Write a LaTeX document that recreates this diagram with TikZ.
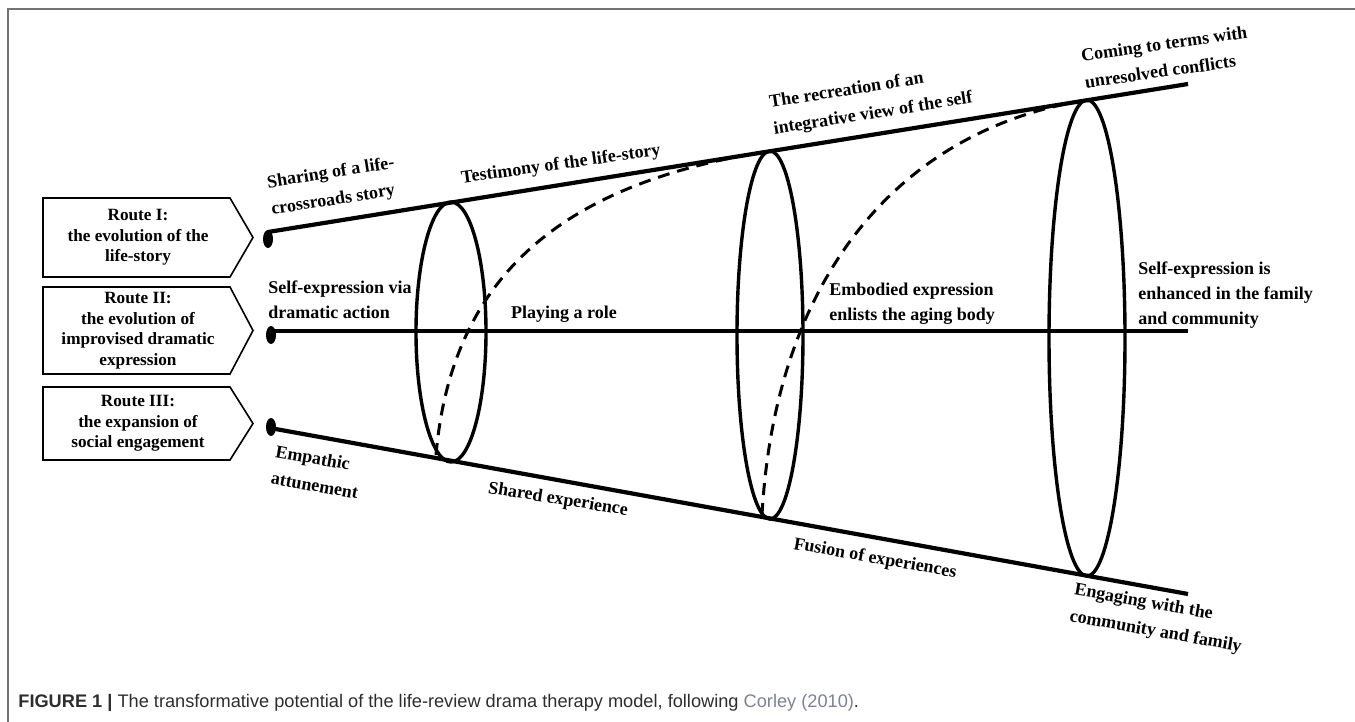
\documentclass[tikz,border=0pt]{standalone}
\usepackage{fontspec}
\setmainfont{Liberation Serif}
\newfontfamily\capfont{Liberation Sans}
\usetikzlibrary{calc}
\definecolor{framegray}{RGB}{115,115,115}
\definecolor{capgray}{RGB}{45,45,45}
\definecolor{linkgray}{RGB}{125,130,145}

\begin{document}
\begin{tikzpicture}[
	x=0.5pt, y=-0.5pt,
	routebox/.style ={draw, line width=0.8pt, line join=miter},
	routetext/.style ={align=center, inner sep=0pt, font=\bfseries\fontsize{8.6}{10.3}\selectfont},
	route/.style ={line width=2.1pt},
	ring/.style ={line width=1.7pt},
	spiral/.style ={line width=1.5pt, dash pattern=on 6pt off 4pt},
	lbl/.style ={align=left, inner sep=0pt, font=\bfseries\fontsize{9}{12.5}\selectfont},
	tilted/.style ={lbl, font=\bfseries\fontsize{9}{13.5}\selectfont},
	caption/.style ={anchor=west, inner sep=0pt, text=capgray, font=\capfont\fontsize{9.1}{11}\selectfont}]

	\useasboundingbox (0,0) rectangle (1355,722);
	\draw[framegray, line width=0.8pt] (8,722) -- (8,9) -- (1355,9);

	% the three routes
	\foreach \n/\ya/\yb/\txt in {1/198/277/{Route I:\\the evolution of the\\life-story},
		2/287/374/{Route II:\\the evolution of\\improvised dramatic\\expression},
		3/387/460/{Route III:\\the expansion of\\social engagement}}
	{
		\draw[routebox] (43,\ya) -- (230,\ya) -- (253,{(\ya+\yb)/2}) -- (230,\yb) -- (43,\yb) -- cycle;
		\node[routetext] (route\n) at (138,{(\ya+\yb)/2}) {\txt};
	}

	\coordinate (TL) at (268,232);
	\coordinate (TR) at (1188,84);
	\coordinate (ML) at (270,331);
	\coordinate (MR) at (1188,331);
	\coordinate (BL) at (270,428);
	\coordinate (BR) at (1188,594);

	\fill (268,239) ellipse [x radius=5, y radius=9];
	\fill (271,335) ellipse [x radius=5, y radius=9];
	\fill (271,427) ellipse [x radius=5, y radius=9];

	\draw[route] (TL) -- (TR);
	\draw[route] (ML) -- (MR);
	\draw[route] (BL) -- (BR);

	% stages
	\foreach \cx/\cy/\rx/\ry in {451/332/35/130, 770/335/33/184, 1087/338/38/238}
		\draw[ring] (\cx,\cy) ellipse [x radius=\rx, y radius=\ry];

	\draw[spiral] (436,455) .. controls (452,270) and (570,182) .. (770,151);
	\draw[spiral] (762,515) .. controls (775,280) and (897,130) .. (1087,100);

	% labels along the routes
	\node[tilted, rotate=9] (share) at (333,187) {Sharing of a life-\\crossroads story};
	\node[lbl, rotate=8] (testimony) at (561,165) {Testimony of the life-story};
	\node[tilted, rotate=9] (recreation) at (871,101) {The recreation of an\\integrative view of the self};
	\node[tilted, rotate=8] (terms) at (1166,57) {Coming to terms with\\unresolved conflicts};
	\node[lbl, anchor=west] (selfvia) at (268,300) {Self-expression via\\dramatic action};
	\node[lbl] (role) at (564,314) {Playing a role};
	\node[lbl, anchor=west] (embodied) at (829,304) {Embodied expression\\enlists the aging body};
	\node[lbl, anchor=west] (enhanced) at (1138,295) {Self-expression is\\enhanced in the family\\and community};
	\node[tilted, rotate=-10] (empathic) at (317,472) {Empathic\\attunement};
	\node[lbl, rotate=-9] (shared) at (558,500) {Shared experience};
	\node[lbl, rotate=-10] (fusion) at (875,559) {Fusion of experiences};
	\node[tilted, rotate=-10] (engaging) at (1158,619) {Engaging with the\\community and family};

	\node[caption] (cap) at (18,703) {\textbf{FIGURE 1 |} The transformative potential of the life-review drama therapy model, following \textcolor{linkgray}{Corley (2010)}.};

\end{tikzpicture}
\end{document}
